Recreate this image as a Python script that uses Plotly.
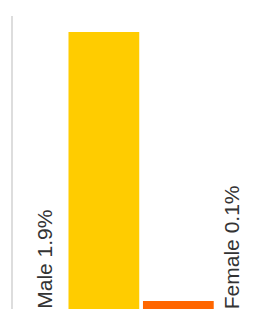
import plotly.graph_objects as go

categories = ["Male", "Female"]
values = [1.9, 0.1]
colors = ["#FFCC00", "#FF6600"]
label_offsets = [-0.8, 0.71]

fig = go.Figure()
fig.add_trace(go.Bar(
    x=list(range(len(categories))),
    y=values,
    marker=dict(color=colors, line=dict(width=0)),
    width=0.95,
    hoverinfo="skip",
))

for i, (c, v) in enumerate(zip(categories, values)):
    fig.add_annotation(
        x=i + label_offsets[i], y=0.047, xref="x", yref="y",
        text=f"{c} {v:.1f}%", showarrow=False, textangle=-90,
        xanchor="center", yanchor="bottom", yshift=-2,
        font=dict(family="Liberation Sans, Arial, sans-serif", size=21, color="#333333"),
    )

# page body has an 8px default margin; the figure is sized to fill the rest
fig.update_layout(
    width=256, height=301,
    margin=dict(l=4.5, r=0, t=8, b=0, pad=0),
    paper_bgcolor="white", plot_bgcolor="white",
    showlegend=False,
    xaxis=dict(range=[-1.22, 2.15], visible=False, fixedrange=True),
    yaxis=dict(range=[0.047, 2.007], showgrid=False, zeroline=False,
               showticklabels=False, ticks="", showline=True,
               linecolor="#dddddd", linewidth=1.5, fixedrange=True),
)

fig.write_html("out.html", config={"displayModeBar": False})
